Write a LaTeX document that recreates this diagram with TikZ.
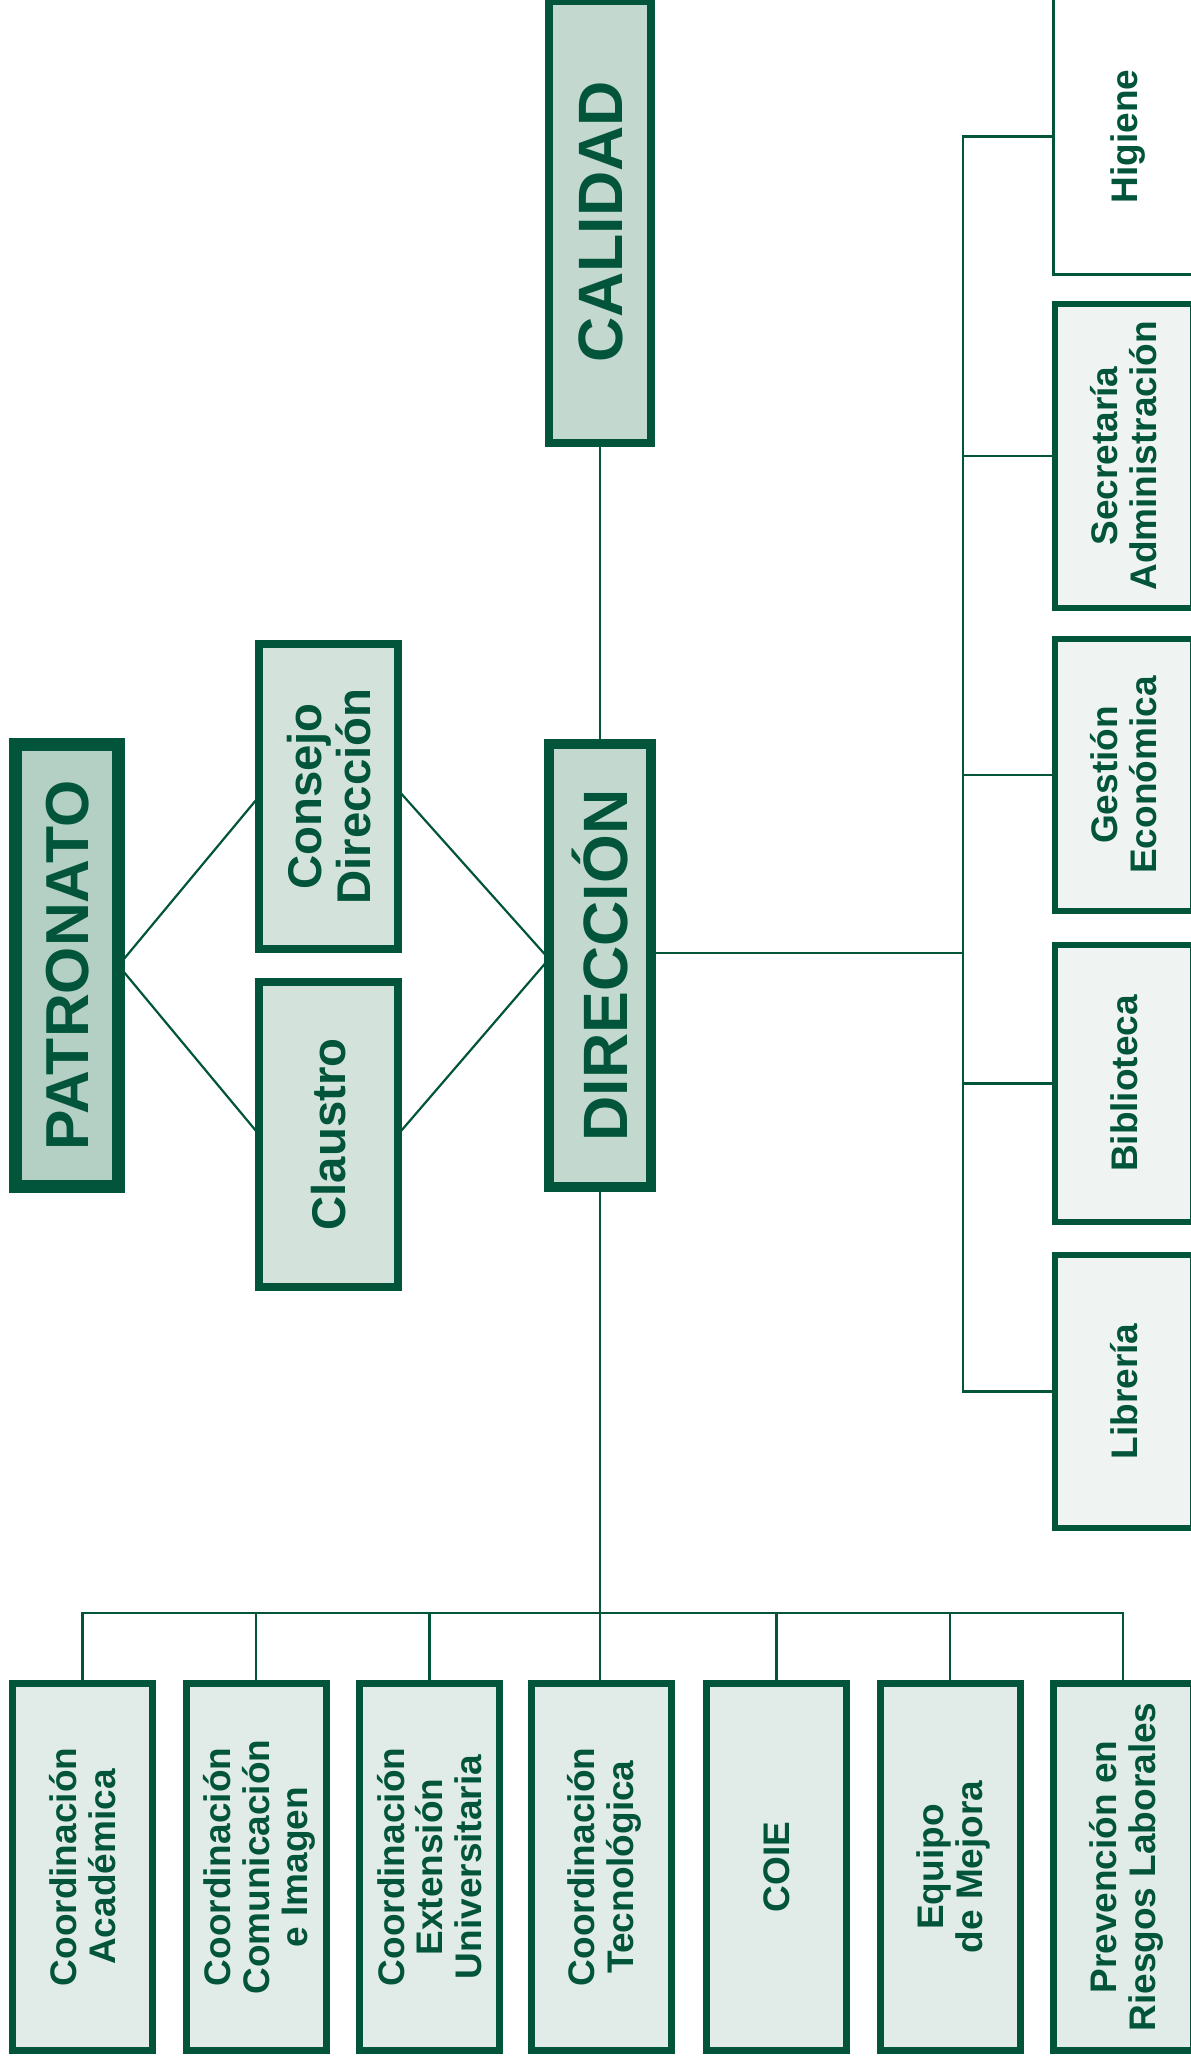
\documentclass[tikz,border=0pt]{standalone}
\usepackage{fontspec}
\setmainfont{Liberation Sans}
\usepackage{graphicx}
\definecolor{dkg}{HTML}{02553A}
\definecolor{patfill}{HTML}{B4CFC4}
\definecolor{dirfill}{HTML}{C3D8CF}
\definecolor{midfill}{HTML}{D3E3DC}
\definecolor{lowfill}{HTML}{E1EBE7}
\definecolor{sidefill}{HTML}{EFF4F2}
\newcommand{\vtxt}[1]{\hspace*{\dimexpr 0.716em - 0.4\baselineskip\relax}\rotatebox{90}{\begin{tabular}{@{}c@{}}#1\end{tabular}}}
\begin{document}
\begin{tikzpicture}[x=0.75pt,y=-0.75pt,
  box/.style={draw=dkg, text=dkg, inner sep=0pt, outer sep=0pt},
  bigtxt/.style={font=\fontsize{47}{48}\selectfont\bfseries},
  midtxt/.style={font=\fontsize{35.5}{36}\selectfont\bfseries},
  smalltxt/.style={font=\fontsize{27.75}{29}\selectfont\bfseries},
  lowbox/.style={box, fill=lowfill, line width=5.25pt, minimum width=105pt, minimum height=275.25pt, smalltxt},
  sidebox/.style={box, fill=sidefill, line width=4.5pt, minimum width=103.5pt, smalltxt},
  conn/.style={draw=dkg, line width=1.65pt}]
\useasboundingbox (0,0) rectangle (1190,2064);

% main column
\node[box, fill=patfill, line width=9.75pt, minimum width=77.25pt, minimum height=331.5pt,
      font=\fontsize{45.5}{46}\selectfont\bfseries] (pat) at (67,965.5) {\vtxt{PATRONATO}};
\node[box, fill=midfill, line width=6pt, minimum width=104.25pt, minimum height=228.75pt, midtxt]
      (cons) at (328.5,796.5) {\vtxt{Consejo\\Dirección}};
\node[box, fill=midfill, line width=6pt, minimum width=104.25pt, minimum height=228.75pt, midtxt]
      (claus) at (328.5,1134.5) {\vtxt{Claustro}};
\node[box, fill=dirfill, line width=7.5pt, minimum width=76.5pt, minimum height=332.25pt, bigtxt]
      (dir) at (600,965.5) {\vtxt{DIRECCIÓN}};
\node[box, fill=dirfill, line width=6pt, minimum width=76.5pt, minimum height=331.5pt, bigtxt]
      (cal) at (600,222) {\vtxt{CALIDAD}};

% right column
\node[box, fill=white, line width=2.25pt, minimum width=105.75pt, minimum height=207pt, smalltxt]
      (hig) at (1124,136.5) {\vtxt{Higiene}};
\node[sidebox, minimum height=228pt] (sec) at (1124,456) {\vtxt{Secretaría\\Administración}};
\node[sidebox, minimum height=204pt] (ges) at (1124,775) {\vtxt{Gestión\\Económica}};
\node[sidebox, minimum height=207.75pt] (bib) at (1124,1083.5) {\vtxt{Biblioteca}};
\node[sidebox, minimum height=204.75pt] (lib) at (1124,1391.5) {\vtxt{Librería}};

% bottom row
\node[lowbox] (b1) at (82.5,1867) {\vtxt{Coordinación\\Académica}};
\node[lowbox] (b2) at (256,1867) {\vtxt{Coordinación\\Comunicación\\e Imagen}};
\node[lowbox] (b3) at (429.5,1867) {\vtxt{Coordinación\\Extensión\\Universitaria}};
\node[lowbox] (b4) at (601,1867) {\vtxt{Coordinación\\Tecnológica}};
\node[lowbox] (b5) at (776.5,1867) {\vtxt{COIE}};
\node[lowbox] (b6) at (950,1867) {\vtxt{Equipo\\de Mejora}};
\node[lowbox] (b7) at (1123,1867) {\vtxt{Prevención en\\Riesgos Laborales}};

% connectors
\draw[conn] (pat.east) -- (cons.west);
\draw[conn] (pat.east) -- (claus.west);
\draw[conn] ([yshift=4.9pt]cons.east) -- ([yshift=4.9pt]dir.west);
\draw[conn] (claus.east) -- ([yshift=4.9pt]dir.west);
\draw[conn] (cal.south) -- (dir.north);

\coordinate (rb) at (963,953);
\draw[conn] (dir.east |- rb) -- (rb);
\draw[conn] (hig.west) -- (hig.west -| rb) -- (lib.west -| rb) -- (lib.west);
\draw[conn] (sec.west -| rb) -- (sec.west);
\draw[conn] (ges.west -| rb) -- (ges.west);
\draw[conn] (bib.west -| rb) -- (bib.west);

\coordinate (bb) at (600,1613);
\draw[conn] (dir.south) -- (dir.south |- b4.north);
\draw[conn] (b1.north) -- (b1.north |- bb) -- (b7.north |- bb) -- (b7.north);
\draw[conn] (b2.north |- bb) -- (b2.north);
\draw[conn] (b3.north |- bb) -- (b3.north);
\draw[conn] (b5.north |- bb) -- (b5.north);
\draw[conn] (b6.north |- bb) -- (b6.north);
\end{tikzpicture}
\end{document}
